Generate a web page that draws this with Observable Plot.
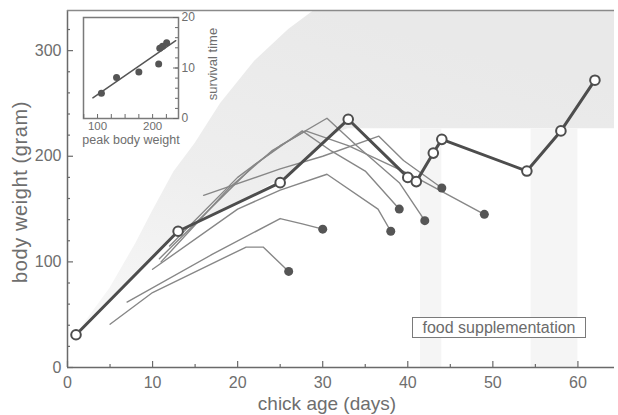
<!DOCTYPE html>
<html><head><meta charset="utf-8">
<script src="https://cdn.jsdelivr.net/npm/d3@7"></script>
<script src="https://cdn.jsdelivr.net/npm/@observablehq/plot@0.6"></script>
<style>
body{margin:0;background:#fff;}
#wrap{position:relative;width:618px;height:415px;font-family:"Liberation Sans",Arial,Helvetica,sans-serif;}
#wrap svg{position:absolute;}
#legend{position:absolute;left:412px;top:317px;width:172px;height:19px;border:1.5px solid #7a7a7a;color:#6b6b6b;font-size:16px;line-height:19px;text-align:center;background:#fff;}
</style></head><body><div id="wrap"></div>
<script>
// main axes
const xMajor = [0,10,20,30,40,50,60];
const xMinor = [5,15,25,35,45,55];
const yMajor = [0,100,200,300];
const yMinor = [20,40,60,80,120,140,160,180,220,240,260,280,320];

// surviving chick (thick line, open circles)
const survivorDays    = [1, 13, 25, 33, 40, 41, 43, 44, 54, 58, 62];
const survivorWeights = [31, 129, 175, 235, 180, 176, 203, 216, 186, 224, 272];

// chicks that died (thin lines, filled dot at death)
const chickA = [[5,41],[10,71],[21,114],[23,114],[26,91]];
const chickB = [[7,62],[17,107],[25,141],[27.6,136],[30,131]];
const chickC = [[10,93],[20,150],[25,168],[30.5,183],[36.5,150],[38,129]];
const chickD = [[10.8,103],[18,160],[22,192],[27.6,224],[31,205],[35,186],[39,150]];
const chickE = [[12,115],[20,180],[25,210],[30.5,236],[34,210],[39,175],[42,139]];
const chickF = [[16,163],[25,188],[30,200],[36.6,219],[39.5,196],[44,170]];
const chickG = [[11,100],[19,170],[24,205],[28,224],[33,210],[40.5,182],[49,145]];

// shaded growth envelope
const shadeDays = [1, 5, 8, 10, 12.5, 15, 18, 22, 26, 29, 31, 33, 36, 64.3];
const shadeHigh = [31, 75, 117, 148, 185, 212, 250, 290, 320, 338, 338, 338, 338, 338];
const shadeLow  = [31, 64, 88, 105, 125, 137, 148, 164, 183, 205, 220, 226, 226, 226];

// food supplementation periods
const supplementStart = [41.5, 54.5];
const supplementEnd   = [44, 60];
const supplementTop   = [226, 226];

// inset: peak body weight vs survival time
const peakWeights   = [107, 134.5, 175, 211, 213, 218, 225.5];
const survivalTimes = [5, 8.1, 9.2, 10.8, 13.9, 14.3, 15];
const fitX = [91.5, 242];
const fitY = [4.1, 15.4];
const insetXTicks = [75,100,125,150,175,200,225];
const insetYTicks = [2,4,6,8,10,12,14,16,18];

const grey = "#6e6e6e";
const font = "Liberation Sans, Arial, Helvetica, sans-serif";

const chicks = [chickA, chickB, chickC, chickD, chickE, chickF, chickG];
const thinRows = chicks.flatMap((c, k) => c.map(([d, w]) => ({id: k, d, w})));
const deathRows = chicks.map((c, k) => ({id: k, d: c[c.length-1][0], w: c[c.length-1][1]}));
const survivorRows = survivorDays.map((d, i) => ({d, w: survivorWeights[i]}));
const shadeRows = shadeDays.map((d, i) => ({d, lo: shadeLow[i], hi: shadeHigh[i]}));
const bandRows = supplementStart.map((s, i) => ({s, e: supplementEnd[i], lo: 0, hi: supplementTop[i]}));

const W = 618, H = 415, ML = 67, MR = 4, MT = 10, MB = 48;
const FW = W - ML - MR, FH = H - MT - MB;

const main = Plot.plot({
  width: W, height: H,
  marginLeft: ML, marginRight: MR, marginTop: MT, marginBottom: MB,
  x: {domain: [0, 64.3]},
  y: {domain: [0, 338]},
  style: {fontFamily: font, color: grey, background: "transparent", overflow: "visible"},
  marks: [
    Plot.areaY(shadeRows, {x: "d", y1: "lo", y2: "hi", fill: "url(#shadeGrad)"}),
    Plot.rect(bandRows, {x1: "s", x2: "e", y1: "lo", y2: "hi", fill: "#f5f5f5"}),
    Plot.ruleX([0], {stroke: "#6a6a6a", strokeWidth: 1.5}),
    Plot.ruleY([0], {stroke: "#6a6a6a", strokeWidth: 1.5}),
    Plot.ruleY([338], {stroke: "#8a8a8a", strokeWidth: 1.5}),
    Plot.tickX(xMajor, {x: d => d, insetTop: FH - 6, stroke: "#6a6a6a", strokeWidth: 1.2}),
    Plot.tickX(xMinor, {x: d => d, insetTop: FH - 3, stroke: "#6a6a6a", strokeWidth: 1.2}),
    Plot.tickY(yMajor, {y: d => d, insetRight: FW - 6, stroke: "#6a6a6a", strokeWidth: 1.2}),
    Plot.tickY(yMinor, {y: d => d, insetRight: FW - 3, stroke: "#6a6a6a", strokeWidth: 1.2}),
    Plot.axisX(xMajor, {tickSize: 0, tickPadding: 9, fontSize: 16, label: null}),
    Plot.axisY(yMajor, {tickSize: 0, tickPadding: 6, fontSize: 16, label: null}),
    Plot.text(["chick age (days)"], {frameAnchor: "bottom", textAnchor: "middle", lineAnchor: "middle", dx: -14, dy: 36, fontSize: 19, fill: grey}),
    Plot.text(["body weight (gram)"], {frameAnchor: "left", textAnchor: "middle", lineAnchor: "middle", rotate: -90, dx: -47, dy: 3, fontSize: 20, fill: grey}),
    Plot.line(thinRows, {x: "d", y: "w", z: "id", stroke: "#878787", strokeWidth: 1.4}),
    Plot.dot(deathRows, {x: "d", y: "w", r: 4.5, fill: "#555", stroke: "none"}),
    Plot.line(survivorRows, {x: "d", y: "w", stroke: "#4d4d4d", strokeWidth: 3}),
    Plot.dot(survivorRows, {x: "d", y: "w", r: 4.8, fill: "white", stroke: "#4d4d4d", strokeWidth: 2})
  ]
});
main.style.left = "0px"; main.style.top = "0px";
const ns = "http://www.w3.org/2000/svg";
const defs = document.createElementNS(ns, "defs");
defs.innerHTML = '<linearGradient id="shadeGrad" x1="0" y1="1" x2="0.45" y2="0">' +
  '<stop offset="0" stop-color="#f8f8f8"/><stop offset="0.5" stop-color="#eeeeee"/><stop offset="1" stop-color="#e9e9e9"/></linearGradient>';
main.insertBefore(defs, main.firstChild);
// widen the rotated title a little, like the original lettering
d3.select(main).selectAll("text").filter(function() { return this.textContent === "body weight (gram)"; })
  .style("letter-spacing", "0.6px");

const inset = Plot.plot({
  width: 170, height: 145,
  marginLeft: 23, marginRight: 52, marginTop: 17, marginBottom: 27,
  x: {domain: [74.5, 247]},
  y: {domain: [0, 20]},
  style: {fontFamily: font, color: grey, background: "transparent", overflow: "visible"},
  marks: [
    Plot.frame({fill: "white", stroke: "#7a7a7a", strokeWidth: 1.5}),
    Plot.tickX(insetXTicks, {x: d => d, insetTop: 101 - 4, stroke: "#6a6a6a"}),
    Plot.tickY(insetYTicks, {y: d => d, insetLeft: 95 - 3, stroke: "#6a6a6a"}),
    Plot.tickY([0,10,20], {y: d => d, insetLeft: 95 - 5, stroke: "#6a6a6a"}),
    Plot.axisX([100, 200], {tickSize: 0, tickPadding: 3, fontSize: 11.5, label: null}),
    Plot.axisY([0, 10, 20], {anchor: "right", tickSize: 0, tickPadding: 3, fontSize: 12, label: null}),
    Plot.text(["peak body weight"], {frameAnchor: "bottom", textAnchor: "middle", lineAnchor: "middle", dy: 21, fontSize: 12.5, fill: grey}),
    Plot.text(["survival time"], {frameAnchor: "right", textAnchor: "middle", lineAnchor: "middle", rotate: -90, dx: 34, dy: -4, fontSize: 13, fill: grey}),
    Plot.line(fitX.map((x, i) => ({x, y: fitY[i]})), {x: "x", y: "y", stroke: "#555", strokeWidth: 1.5}),
    Plot.dot(peakWeights.map((x, i) => ({x, y: survivalTimes[i]})), {x: "x", y: "y", r: 3.5, fill: "#555", stroke: "none"})
  ]
});
inset.style.left = "60px"; inset.style.top = "0px";

const wrap = document.getElementById("wrap");
wrap.appendChild(main);
wrap.appendChild(inset);
const legend = document.createElement("div");
legend.id = "legend";
legend.textContent = "food supplementation";
wrap.appendChild(legend);
</script>
</body></html>
